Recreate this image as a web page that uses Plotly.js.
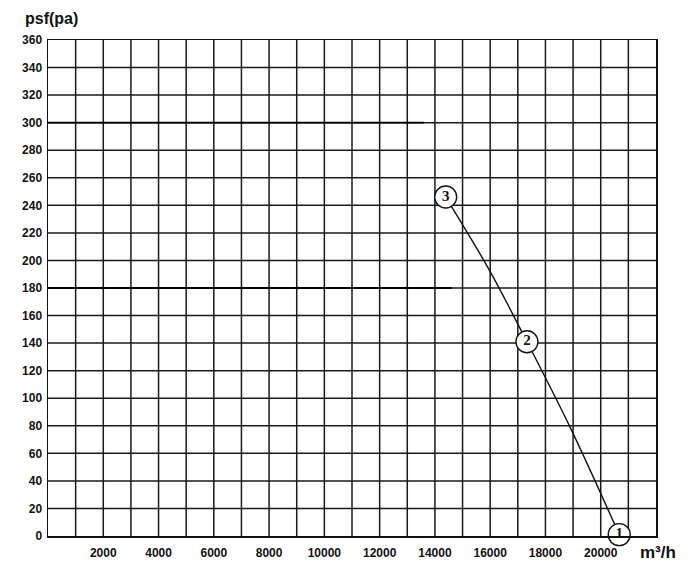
<!DOCTYPE html>
<html>
<head>
<meta charset="utf-8">
<script src="https://cdn.plot.ly/plotly-3.0.1.min.js"></script>
<style>html,body{margin:0;padding:0;background:#fff;}#chart{width:700px;height:568px;}</style>
</head>
<body>
<div id="chart"></div>
<script>
// Fan curve: airflow (m³/h) vs static pressure (Pa)
const curveFlow = [14390, 15970, 17330, 18890, 20670];
const curvePressure = [246, 193, 141, 79, 1];

const pointFlow = [20670, 17330, 14390];
const pointPressure = [1, 141, 246];
const pointLabels = ["1", "2", "3"];

const xTickVals = [2000, 4000, 6000, 8000, 10000, 12000, 14000, 16000, 18000, 20000];
const xTickText = ["2000", "4000", "6000", "8000", "10000", "12000", "14000", "16000", "18000", "20000"];
const yTickVals = [0, 20, 40, 60, 80, 100, 120, 140, 160, 180, 200, 220, 240, 260, 280, 300, 320, 340, 360];

const tickFont = {family: "Liberation Sans, Arial, sans-serif", size: 12, color: "#111", weight: "bold"};

const traces = [
  {
    x: curveFlow, y: curvePressure, type: "scatter", mode: "lines",
    line: {color: "#111", width: 1.4, shape: "spline", smoothing: 1},
    hoverinfo: "skip", showlegend: false, cliponaxis: false
  },
  {
    x: pointFlow, y: pointPressure, type: "scatter", mode: "markers+text",
    text: pointLabels, textposition: "middle center",
    textfont: {family: "Liberation Serif, Times New Roman, serif", size: 15, color: "#111", weight: "bold"},
    marker: {symbol: "circle", size: 22, color: "#fff", line: {color: "#111", width: 1.4}},
    showlegend: false, cliponaxis: false
  }
];

const layout = {
  width: 700, height: 568,
  margin: {l: 48, r: 44, t: 40, b: 32},
  paper_bgcolor: "#fff", plot_bgcolor: "#fff",
  showlegend: false,
  xaxis: {
    range: [0, 22000], tickvals: xTickVals, ticktext: xTickText,
    showgrid: false, zeroline: false, ticks: "", tickfont: tickFont,
    ticklabelstandoff: 5,
    showline: true, linecolor: "#111", linewidth: 1.5, mirror: true
  },
  yaxis: {
    range: [0, 360], tickvals: yTickVals,
    showgrid: false, zeroline: false, ticks: "", tickfont: tickFont,
    ticklabelstandoff: 2,
    showline: true, linecolor: "#111", linewidth: 1.5, mirror: true
  },
  shapes: [],
  annotations: [
    {xref: "paper", yref: "paper", x: -0.041, y: 1, xanchor: "left", yanchor: "middle", yshift: 22,
     text: "psf(pa)", showarrow: false,
     font: {family: "Liberation Sans, Arial, sans-serif", size: 16, color: "#111", weight: "bold"}},
    {xref: "paper", yref: "paper", x: 0.970, y: 0, xanchor: "left", yanchor: "middle", yshift: -16,
     text: "m³/h", showarrow: false,
     font: {family: "Liberation Sans, Arial, sans-serif", size: 17, color: "#111", weight: "bold"}}
  ]
};

// grid lines every 1000 m³/h and every 20 Pa
for (let gx = 1000; gx < 22000; gx += 1000) {
  layout.shapes.push({type: "line", xref: "x", yref: "y", x0: gx, x1: gx, y0: 0, y1: 360,
    line: {color: "#1a1a1a", width: 1.5}, layer: "below"});
}
for (let gy = 20; gy < 360; gy += 20) {
  layout.shapes.push({type: "line", xref: "x", yref: "y", x0: 0, x1: 22000, y0: gy, y1: gy,
    line: {color: "#1a1a1a", width: 1.5}, layer: "below"});
}
// slightly heavier segments seen in the original print
layout.shapes.push({type: "line", xref: "x", yref: "y", x0: 0, x1: 14600, y0: 180, y1: 180,
  line: {color: "#000", width: 1.8}, layer: "below"});
layout.shapes.push({type: "line", xref: "x", yref: "y", x0: 0, x1: 13600, y0: 300, y1: 300,
  line: {color: "#000", width: 1.8}, layer: "below"});

Plotly.newPlot("chart", traces, layout, {displayModeBar: false, staticPlot: true});
</script>
</body>
</html>
